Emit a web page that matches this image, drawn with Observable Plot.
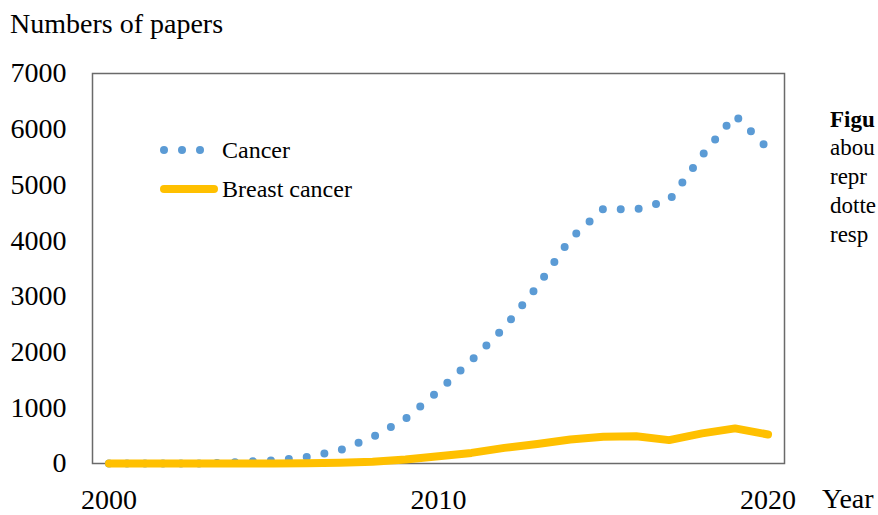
<!DOCTYPE html>
<html><head><meta charset="utf-8">
<script src="https://cdn.jsdelivr.net/npm/d3@7"></script>
<script src="https://cdn.jsdelivr.net/npm/@observablehq/plot@0.6"></script>
<style>html,body{margin:0;padding:0;background:#fff;overflow:hidden}</style>
</head><body><div id="chart"></div>
<script>
const years = [2000,2001,2002,2003,2004,2005,2006,2007,2008,2009,2010,2011,2012,2013,2014,2015,2016,2017,2018,2019,2020];
const cancer = [0,0,0,0,30,55,115,235,475,800,1300,1850,2440,3180,4030,4570,4560,4720,5530,6250,5650];
const breastCancer = [0,0,0,0,0,2,5,15,30,70,130,190,280,350,430,480,490,420,540,630,520];
const xTicks = [2000,2010,2020];
const yTicks = [0,1000,2000,3000,4000,5000,6000,7000];
const seriesNames = ["Cancer","Breast cancer"];
const seriesColors = ["#5B9BD5","#FFC000"];
const yTitle = "Numbers of papers";
const xTitle = "Year";
const captionLines = ["Figu","abou","repr","dotte","resp"];

const rows = years.map((y,i)=>({year:y, cancer:cancer[i], breast:breastCancer[i]}));
const font = "'Liberation Serif','Times New Roman',serif";

const svg = Plot.plot({
  width:878, height:515,
  marginLeft:92, marginRight:94, marginTop:73, marginBottom:52,
  style:{fontFamily:font, fontSize:"28px", color:"#000", background:"#fff", overflow:"hidden"},
  x:{domain:[1999.5,2020.5]},
  y:{domain:[0,7000]},
  marks:[
    Plot.frame({stroke:"#6a6a6a", strokeWidth:1.5}),
    Plot.axisX({ticks:xTicks, tickSize:0, tickPadding:26, tickFormat:"d", label:null}),
    Plot.axisY({ticks:yTicks, tickSize:0, tickPadding:26, tickFormat:"d", label:null}),
    Plot.line(rows,{x:"year", y:"cancer", stroke:seriesColors[0], strokeWidth:8, strokeDasharray:"0 18", strokeLinecap:"round", strokeLinejoin:"round"}),
    Plot.line(rows,{x:"year", y:"breast", stroke:seriesColors[1], strokeWidth:8, strokeLinecap:"round", strokeLinejoin:"round"})
  ]
});
document.getElementById("chart").appendChild(svg);

const s = d3.select(svg);
const g = s.append("g").attr("font-family", font).attr("fill", "#000").attr("text-anchor","start");
g.append("text").attr("x",10).attr("y",33).attr("font-size",28).text(yTitle);
g.append("text").attr("x",822).attr("y",508).attr("font-size",28).text(xTitle);

// legend
const leg = g.append("g");
[164,182,200].forEach(cx => leg.append("circle").attr("cx",cx).attr("cy",150).attr("r",4).attr("fill",seriesColors[0]));
leg.append("text").attr("x",222).attr("y",158).attr("font-size",24).text(seriesNames[0]);
leg.append("line").attr("x1",164).attr("x2",214).attr("y1",189).attr("y2",189)
  .attr("stroke",seriesColors[1]).attr("stroke-width",8).attr("stroke-linecap","round");
leg.append("text").attr("x",222).attr("y",197).attr("font-size",24).text(seriesNames[1]);

// caption fragment
const capY = [127,155,184,213,242];
captionLines.forEach((t,i) => g.append("text").attr("x",830).attr("y",capY[i]).attr("font-size",23)
  .attr("font-weight", i===0 ? "bold" : "normal").text(t));
</script>
</body></html>
